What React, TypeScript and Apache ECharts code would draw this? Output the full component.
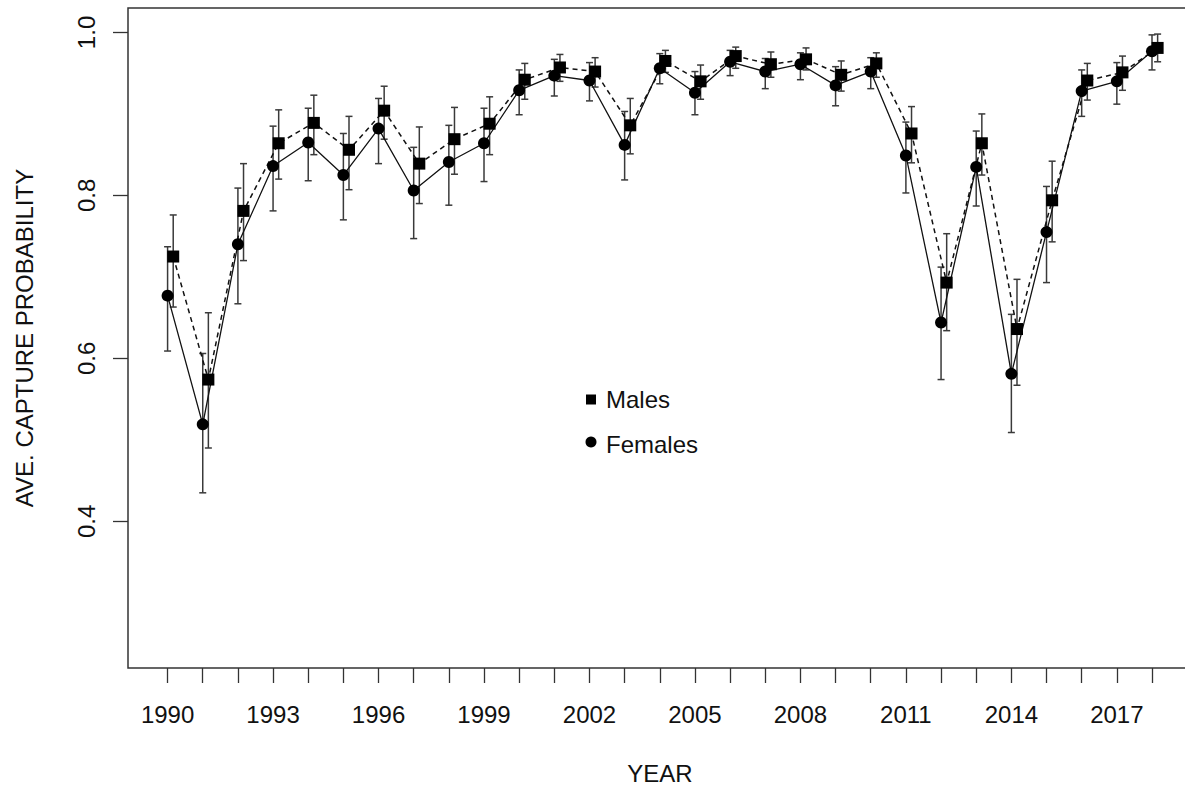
import React, { useEffect, useRef } from "react";
import * as echarts from "echarts";

const years = [1990,1991,1992,1993,1994,1995,1996,1997,1998,1999,2000,2001,2002,2003,2004,2005,2006,2007,2008,2009,2010,2011,2012,2013,2014,2015,2016,2017,2018];
const yearLabels = [1990,1993,1996,1999,2002,2005,2008,2011,2014,2017];
const yTicks = [0.4, 0.6, 0.8, 1.0];

const femaleMean = [0.677,0.519,0.740,0.836,0.865,0.825,0.882,0.806,0.841,0.864,0.929,0.947,0.941,0.862,0.956,0.926,0.964,0.952,0.961,0.935,0.952,0.849,0.644,0.835,0.581,0.755,0.928,0.940,0.977];
const femaleLower = [0.609,0.435,0.667,0.781,0.818,0.770,0.839,0.747,0.788,0.817,0.899,0.922,0.916,0.819,0.937,0.899,0.947,0.931,0.942,0.910,0.931,0.803,0.574,0.787,0.509,0.693,0.897,0.912,0.954];
const femaleUpper = [0.737,0.606,0.809,0.885,0.907,0.876,0.919,0.859,0.886,0.907,0.954,0.967,0.963,0.903,0.974,0.952,0.978,0.968,0.975,0.958,0.969,0.890,0.712,0.879,0.654,0.811,0.954,0.963,0.997];

const maleMean = [0.725,0.574,0.781,0.864,0.889,0.856,0.904,0.839,0.869,0.888,0.942,0.957,0.952,0.886,0.965,0.940,0.971,0.961,0.967,0.948,0.962,0.876,0.693,0.864,0.636,0.794,0.941,0.951,0.981];
const maleLower = [0.663,0.490,0.720,0.820,0.850,0.807,0.869,0.790,0.826,0.850,0.918,0.940,0.933,0.851,0.951,0.918,0.956,0.945,0.954,0.928,0.945,0.840,0.634,0.825,0.567,0.743,0.917,0.929,0.964];
const maleUpper = [0.776,0.656,0.839,0.905,0.923,0.897,0.934,0.884,0.908,0.921,0.962,0.973,0.969,0.919,0.978,0.960,0.982,0.976,0.981,0.965,0.975,0.909,0.753,0.900,0.697,0.842,0.962,0.971,0.998];

const MALE_OFFSET = 0.16;
const FONT = "'Liberation Sans', Arial, Helvetica, sans-serif";
const TEXT = "#111";

function errorBarItem(params: any, api: any) {
  const x = api.value(0);
  const lo = api.coord([x, api.value(1)]);
  const hi = api.coord([x, api.value(2)]);
  const w = 3.5;
  const style = { stroke: "#3a3a3a", lineWidth: 1.5 };
  return {
    type: "group",
    children: [
      { type: "line", shape: { x1: lo[0], y1: lo[1], x2: hi[0], y2: hi[1] }, style },
      { type: "line", shape: { x1: lo[0] - w, y1: lo[1], x2: lo[0] + w, y2: lo[1] }, style },
      { type: "line", shape: { x1: hi[0] - w, y1: hi[1], x2: hi[0] + w, y2: hi[1] }, style },
    ],
  };
}

export default function App() {
  const ref = useRef<HTMLDivElement>(null);
  useEffect(() => {
    if (!ref.current) return;
    const chart = echarts.init(ref.current, undefined, { renderer: "svg" });
    const fData = years.map((y, i) => [y, femaleMean[i]]);
    const mData = years.map((y, i) => [y + MALE_OFFSET, maleMean[i]]);
    const fErr = years.map((y, i) => [y, femaleLower[i], femaleUpper[i]]);
    const mErr = years.map((y, i) => [y + MALE_OFFSET, maleLower[i], maleUpper[i]]);
    chart.setOption({
      animation: false,
      backgroundColor: "#fff",
      grid: {
        show: true,
        left: 128,
        right: -12,
        top: 8,
        bottom: 119,
        borderColor: "#333",
        borderWidth: 1.5,
        containLabel: false,
        outerBoundsMode: "none",
      },
      xAxis: {
        type: "value",
        min: 1988.874,
        max: 2019.28,
        splitLine: { show: false },
        axisLine: { show: false },
        axisTick: {
          show: true,
          length: 15,
          customValues: years,
          lineStyle: { color: "#333", width: 1.3 },
        },
        axisLabel: {
          customValues: yearLabels,
          fontSize: 24,
          fontFamily: FONT,
          color: TEXT,
          margin: 34,
          formatter: (v: number) => String(Math.round(v)),
        },
      },
      yAxis: {
        type: "value",
        min: 0.22,
        max: 1.03,
        splitLine: { show: false },
        axisLine: { show: false },
        axisTick: {
          show: true,
          length: 15,
          customValues: yTicks,
          lineStyle: { color: "#333", width: 1.3 },
        },
        axisLabel: {
          customValues: yTicks,
          rotate: 90,
          fontSize: 24,
          fontFamily: FONT,
          color: TEXT,
          margin: 30,
          formatter: (v: number) => v.toFixed(1),
        },
      },
      series: [
        {
          name: "Females CI",
          type: "custom",
          renderItem: errorBarItem,
          data: fErr,
          encode: { x: 0, y: [1, 2] },
          z: 1,
          silent: true,
        },
        {
          name: "Males CI",
          type: "custom",
          renderItem: errorBarItem,
          data: mErr,
          encode: { x: 0, y: [1, 2] },
          z: 1,
          silent: true,
        },
        {
          name: "Females",
          type: "line",
          data: fData,
          symbol: "circle",
          symbolSize: 12,
          itemStyle: { color: "#000" },
          lineStyle: { color: "#111", width: 1.3, type: "solid" },
          z: 3,
        },
        {
          name: "Males",
          type: "line",
          data: mData,
          symbol: "rect",
          symbolSize: 12,
          itemStyle: { color: "#000" },
          lineStyle: { color: "#111", width: 1.5, type: [5, 4] },
          z: 3,
        },
      ],
      graphic: [
        {
          type: "text",
          x: 24,
          y: 338,
          rotation: Math.PI / 2,
          style: { text: "AVE. CAPTURE PROBABILITY", fontSize: 24, fontFamily: FONT, fill: TEXT, align: "center", verticalAlign: "middle" },
        },
        {
          type: "text",
          x: 660,
          y: 773,
          style: { text: "YEAR", fontSize: 24, fontFamily: FONT, fill: TEXT, align: "center", verticalAlign: "middle" },
        },
        { type: "rect", shape: { x: 586, y: 394.5, width: 10, height: 10 }, style: { fill: "#000" } },
        { type: "circle", shape: { cx: 591, cy: 442, r: 5.5 }, style: { fill: "#000" } },
        {
          type: "text",
          x: 606,
          y: 399,
          style: { text: "Males", fontSize: 24, fontFamily: FONT, fill: TEXT, align: "left", verticalAlign: "middle" },
        },
        {
          type: "text",
          x: 606,
          y: 444,
          style: { text: "Females", fontSize: 24, fontFamily: FONT, fill: TEXT, align: "left", verticalAlign: "middle" },
        },
      ],
    });
    return () => chart.dispose();
  }, []);
  return (
    <div
      ref={ref}
      style={{ position: "fixed", left: 0, top: 0, width: 1185, height: 787, overflow: "hidden", background: "#fff" }}
    />
  );
}
